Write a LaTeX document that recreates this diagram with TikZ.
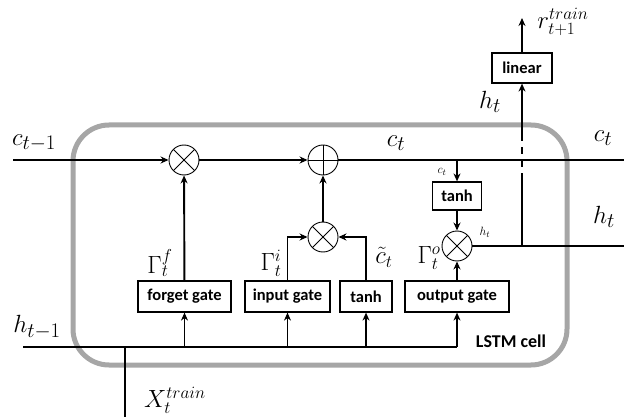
\documentclass[tikz,border=0pt]{standalone}
\usepackage{fontspec}
\newfontfamily\boxfont{Carlito}
\usetikzlibrary{arrows.meta}
\definecolor{cellgray}{RGB}{166,166,166}
\tikzset{
  wire/.style={line width=1.9pt},
  arr/.style={wire,-{Stealth[length=8pt,width=7pt]}},
  opnode/.style={circle,draw,line width=0.9pt,minimum size=30pt,inner sep=0pt},
  mult/.style={opnode,path picture={
     \draw[line width=0.9pt] (path picture bounding box.south west)--(path picture bounding box.north east)
       (path picture bounding box.north west)--(path picture bounding box.south east);}},
  plus/.style={opnode,path picture={
     \draw[line width=0.9pt] (path picture bounding box.south)--(path picture bounding box.north)
       (path picture bounding box.west)--(path picture bounding box.east);}},
  gatebox/.style={draw,line width=1.2pt,minimum height=31pt,inner sep=0pt,
     font=\boxfont\bfseries\fontsize{16.5}{18}\selectfont},
  biglab/.style={font=\fontsize{30}{32}\selectfont,inner sep=0pt},
  midlab/.style={font=\fontsize{25}{28}\selectfont,inner sep=0pt},
  smalllab/.style={font=\fontsize{13}{15}\selectfont,inner sep=0pt},
}
\begin{document}
\begin{tikzpicture}[x=1pt,y=-1pt]
\useasboundingbox (0,0) rectangle (624,417);
% LSTM cell border
\draw[cellgray,line width=5pt,rounded corners=36pt] (73,125) rectangle (567,365);
% operation nodes
\node[mult] (m1) at (184,160) {};
\node[plus] (p1) at (323,160) {};
\node[mult] (m2) at (323,237) {};
\node[mult] (m3) at (457,246) {};
% boxes
\node[gatebox,minimum width=93pt] (fg) at (184.5,296.5) {forget gate};
\node[gatebox,minimum width=85pt] (ig) at (287.5,296.5) {input gate};
\node[gatebox,minimum width=52pt] (th1) at (366,296.5) {tanh};
\node[gatebox,minimum width=104pt] (og) at (457,296.5) {output gate};
\node[gatebox,minimum width=49pt,minimum height=28pt] (th2) at (457,196) {tanh};
\node[gatebox,minimum width=60pt,minimum height=30pt] (lin) at (522,68) {linear};
% coordinates
\coordinate (cin) at (13,160);
\coordinate (cout) at (624,160);
\coordinate (cbr) at (457,160);
\coordinate (hout) at (624,246);
\coordinate (hj) at (522,246);
\coordinate (d1) at (522,180);
\coordinate (d2) at (522,137);
\coordinate (rtop) at (522,18);
\coordinate (hin) at (23,347);
\coordinate (hend) at (457,347);
\coordinate (xb) at (125,417);
\coordinate (xj) at (125,347);
\coordinate (hf) at (184.5,347);
\coordinate (hi) at (287.5,347);
\coordinate (ht) at (366,347);
% c line
\draw[arr] (cin) -- (m1);
\draw[arr] (m1) -- (p1);
\draw[wire] (p1) -- (cout);
\draw[arr] (fg) -- (m1);
\draw[arr] (ig.north) |- (m2);
\draw[arr] (th1.north) |- (m2);
\draw[arr] (m2) -- (p1);
\draw[arr] (cbr) -- (th2);
\draw[arr] (th2) -- (m3);
\draw[arr] (og) -- (m3);
\draw[wire] (m3) -- (hout);
\draw[wire] (hj) -- (d1);
\draw[wire,dash pattern=on 7pt off 6pt] (d1) -- (d2);
\draw[arr] (d2) -- (lin);
\draw[arr] (lin) -- (rtop);
% h_{t-1} line
\draw[wire] (hin) -- (hend);
\draw[wire] (xb) -- (xj);
\draw[arr] (hf) -- (fg);
\draw[arr] (hi) -- (ig);
\draw[arr] (ht) -- (th1);
\draw[arr] (hend) -- (og);
% labels
\node[biglab] (lc1) at (34,143) {$c_{t-1}$};
\node[biglab] (lc2) at (396,143) {$c_t$};
\node[biglab] (lc3) at (603,138) {$c_t$};
\node[biglab] (lh1) at (604,217) {$h_t$};
\node[biglab] (lh2) at (490,102) {$h_t$};
\node[biglab] (lh0) at (37,327) {$h_{t-1}$};
\node[midlab] (lr) at (563,22) {$r_{t+1}^{train}$};
\node[midlab] (lx) at (175,400) {$X_t^{train}$};
\node[smalllab] (lc4) at (442,172) {$c_t$};
\node[smalllab] (lh3) at (485,232) {$h_t$};
\node[midlab] (gf) at (160,263) {$\Gamma_t^f$};
\node[midlab] (gi) at (271,263) {$\Gamma_t^i$};
\node[midlab] (ct) at (384,257) {$\tilde{c}_t$};
\node[midlab] (go) at (429,258) {$\Gamma_t^o$};
\node[font=\boxfont\bfseries\fontsize{18}{20}\selectfont,inner sep=0pt] (cell) at (511,341) {LSTM cell};
\end{tikzpicture}
\end{document}
